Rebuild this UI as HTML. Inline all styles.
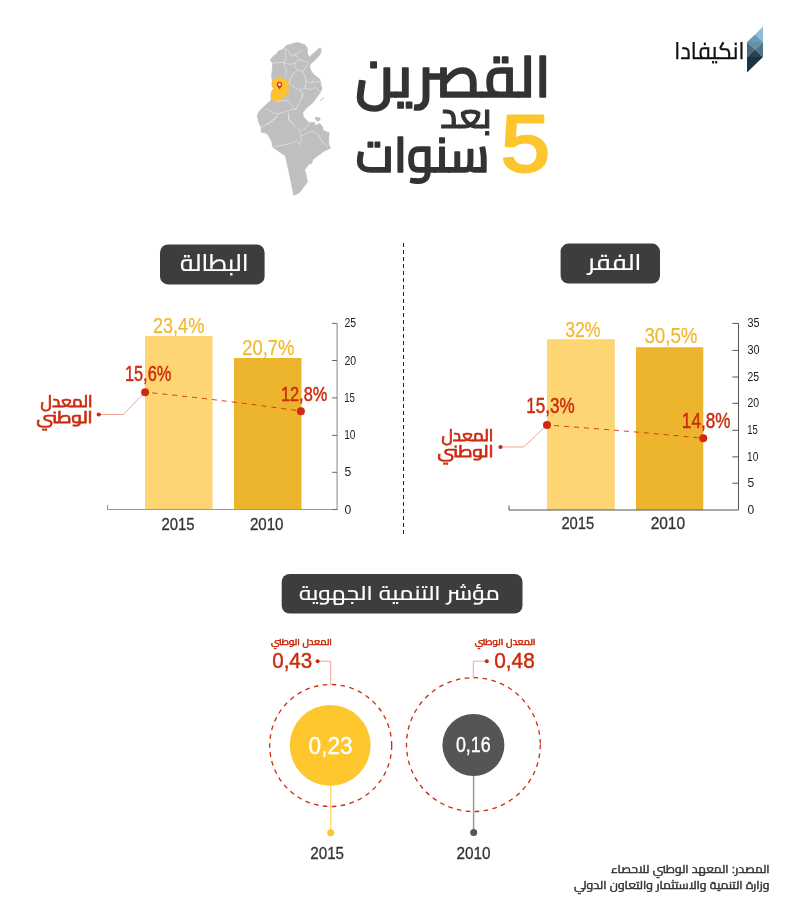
<!DOCTYPE html>
<html lang="ar">
<head>
<meta charset="utf-8">
<title>القصرين بعد 5 سنوات</title>
<style>
html,body{margin:0;padding:0;background:#ffffff;}
body{width:800px;height:920px;overflow:hidden;font-family:"Liberation Sans","Cairo","DejaVu Sans",sans-serif;}
svg{display:block;}
svg text{font-family:"Liberation Sans","Cairo","DejaVu Sans",sans-serif;white-space:pre;}
</style>
</head>
<body>
<svg width="800" height="920" viewBox="0 0 800 920">
<rect x="0" y="0" width="800" height="920" fill="#ffffff"/>

<!-- logo mark -->
<g id="logo-mark">
<polygon points="763,26.5 763,42 755,34.5" fill="#8bbdd8"/>
<polygon points="747,42 755,34.5 763,42" fill="#6c9bb6"/>
<polygon points="747,42 763,42 755,49.5" fill="#6590aa"/>
<polygon points="747,42 755,49.5 747,57" fill="#466a7e"/>
<polygon points="763,42 763,57 755,49.5" fill="#4f7488"/>
<polygon points="747,57 763,57 755,49.5" fill="#2a4250"/>
<polygon points="747,57 763,57 747,72.5" fill="#1e3340"/>
</g>

<!-- pills -->
<rect x="160" y="244.4" width="104.6" height="40" rx="8" fill="#3d3d3d"/>
<rect x="560.6" y="243.6" width="99.4" height="40" rx="8" fill="#3d3d3d"/>
<rect x="281.7" y="574" width="240.8" height="39.5" rx="8" fill="#3d3d3d"/>

<!-- divider -->
<line x1="403.5" y1="243" x2="403.5" y2="534" stroke="#222" stroke-width="1" stroke-dasharray="4 3"/>

<!-- left chart -->
<g id="chart-left">
<rect x="145" y="336" width="67.5" height="173.5" fill="#fdd572"/>
<rect x="234" y="358" width="67.5" height="151.5" fill="#edb52d"/>
<path d="M107.5 505 V509.5 H337.1 V323.4" fill="none" stroke="#999" stroke-width="1.2"/>
<path d="M332 323.4 H337.1 M332 360.5 H337.1 M332 397.9 H337.1 M332 435.4 H337.1 M332 472.3 H337.1 M332 509.5 H337.1" fill="none" stroke="#666" stroke-width="1"/>
<path d="M98.75 414.5 H123.25 L145.1 392.2" fill="none" stroke="#f0a696" stroke-width="1"/>
<circle cx="98.75" cy="414.5" r="2.1" fill="#cc2b0e"/>
<path d="M145.1 392.2 Q232 401 300.9 411.2" fill="none" stroke="#cc2b0e" stroke-width="0.9" stroke-dasharray="5 5" stroke-dashoffset="3"/>
<circle cx="145.1" cy="392.2" r="4" fill="#cc2b0e"/>
<circle cx="300.9" cy="411.2" r="4" fill="#cc2b0e"/>
</g>

<!-- right chart -->
<g id="chart-right">
<rect x="547" y="339.25" width="67.75" height="170.75" fill="#fdd572"/>
<rect x="636" y="347.25" width="67.25" height="162.75" fill="#edb52d"/>
<path d="M509 505.5 V510 H738.5 V323.4 M732.3 323.4 H738.5 M732.3 350.4 H738.5 M732.3 377 H738.5 M732.3 403.3 H738.5 M732.3 430.3 H738.5 M732.3 456.9 H738.5 M732.3 483.2 H738.5" fill="none" stroke="#555" stroke-width="1"/>
<path d="M500.5 447 H523.75 L547 425" fill="none" stroke="#f0a696" stroke-width="1"/>
<circle cx="500.5" cy="447" r="2.1" fill="#cc2b0e"/>
<path d="M547 425 Q630 431 703.25 438.25" fill="none" stroke="#cc2b0e" stroke-width="0.9" stroke-dasharray="5 5" stroke-dashoffset="3"/>
<circle cx="547" cy="425" r="4" fill="#cc2b0e"/>
<circle cx="703.25" cy="438.25" r="4" fill="#cc2b0e"/>
</g>

<!-- circles -->
<g id="index">
<circle cx="330.7" cy="745.5" r="61" fill="none" stroke="#cc2b0e" stroke-width="1.3" stroke-dasharray="4.6 4.4"/>
<line x1="330.7" y1="785" x2="330.7" y2="832.7" stroke="#fddb7a" stroke-width="1.5"/>
<circle cx="330.2" cy="745.4" r="40.4" fill="#fec72e"/>
<circle cx="330.7" cy="832.7" r="3.5" fill="#fec72e"/>
<path d="M317.6 661.2 H330.7 V684.6" fill="none" stroke="#f0a696" stroke-width="1"/>
<circle cx="317.6" cy="661.2" r="2" fill="#cc2b0e"/>

<circle cx="473.4" cy="744.6" r="66.9" fill="none" stroke="#cc2b0e" stroke-width="1.3" stroke-dasharray="4.6 4.4"/>
<line x1="473.6" y1="775" x2="473.6" y2="832.5" stroke="#999" stroke-width="1.5"/>
<circle cx="473.4" cy="745" r="31" fill="#555555"/>
<circle cx="473.7" cy="832.5" r="3.5" fill="#555555"/>
<path d="M486.8 661.2 H473.3 V677.8" fill="none" stroke="#f0a696" stroke-width="1"/>
<circle cx="486.8" cy="661.2" r="2" fill="#cc2b0e"/>
</g>
<!-- map of Tunisia -->
<g id="map">
<polygon points="297.2,42.6 301.0,43.5 305.0,45.0 307.0,47.5 307.5,51.0 307.0,53.0 308.5,55.5 309.5,57.5 311.0,55.5 314.0,53.0 317.0,50.5 319.0,48.3 320.8,48.5 321.2,51.5 320.0,54.5 317.5,57.5 315.0,60.0 312.0,62.5 310.0,64.5 309.8,67.0 310.5,70.0 312.5,73.0 315.0,75.5 317.5,77.5 319.5,79.0 320.5,82.0 320.8,85.0 322.0,88.0 321.0,91.0 319.0,94.0 317.0,97.0 314.5,100.5 311.9,103.6 306.2,108.1 302.9,112.6 302.9,116.0 304.5,118.0 306.2,120.0 309.6,122.9 313.0,122.3 314.7,122.3 315.0,125.7 317.5,124.6 319.7,123.4 322.0,126.3 323.1,130.2 326.5,131.9 329.3,133.0 328.7,137.5 328.7,144.3 330.4,148.2 324.2,151.0 318.1,155.5 313.0,159.4 311.3,163.4 308.5,164.5 304.6,170.1 306.2,175.7 307.4,181.9 299.5,192.6 293.9,195.4 286.0,157.7 284.9,155.5 272.5,147.1 271.9,142.0 270.2,138.6 266.9,133.6 261.2,131.9 261.2,127.4 259.0,122.9 257.3,116.0 259.0,111.5 263.5,107.0 266.9,104.2 271.2,100.0 271.0,95.0 271.7,91.4 273.7,88.7 272.1,86.0 272.3,80.2 271.6,75.5 272.5,68.7 272.5,63.1 270.2,60.3 273.6,55.8 277.0,54.1 278.1,51.3 282.6,49.6 286.0,45.7 291.6,44.0" fill="#bfbfbf" stroke="#bfbfbf" stroke-width="0.8" stroke-linejoin="round"/>
<polygon points="315.2,117.2 319.7,117.8 320.3,120.0 317.5,121.2 315.8,120.0" fill="#bfbfbf" stroke="#bfbfbf" stroke-width="0.5" stroke-linejoin="round"/>
<polygon points="319.9,100.6 322.0,98.6 324.2,97.2 324.6,97.9 322.4,99.6 320.4,101.2" fill="#c8c8c8"/>
<polygon points="278.4,76.5 280.9,77.5 283.6,78.8 287.2,81.0 289.9,83.8 287.2,87.3 289.0,89.6 288.6,92.3 285.4,95.0 284.5,97.2 280.9,99.5 275.9,101.8 271.2,99.0 271.0,95.0 271.7,91.4 273.7,88.7 272.1,86.0 272.4,80.2 276.9,79.2" fill="#fdc22f" stroke="#fdc22f" stroke-width="0.5" stroke-linejoin="round"/>
<polyline points="284.5,48.5 285.5,53.0 286.0,58.0 284.0,62.5 285.0,67.0 286.5,72.0 285.0,76.5" fill="none" stroke="#ebebeb" stroke-width="0.7" stroke-linejoin="round" stroke-opacity="0.85"/>
<polyline points="285.0,47.5 289.0,52.0 291.0,56.5 295.0,54.5 299.0,52.0 303.0,50.0" fill="none" stroke="#ebebeb" stroke-width="0.7" stroke-linejoin="round" stroke-opacity="0.85"/>
<polyline points="295.0,54.5 299.0,59.5 307.0,62.0" fill="none" stroke="#ebebeb" stroke-width="0.7" stroke-linejoin="round" stroke-opacity="0.85"/>
<polyline points="271.0,63.0 284.0,62.5 289.5,64.5 295.0,63.0 299.0,59.5" fill="none" stroke="#ebebeb" stroke-width="0.7" stroke-linejoin="round" stroke-opacity="0.85"/>
<polyline points="295.0,63.0 294.5,67.0 298.0,70.0 303.0,71.5 307.0,65.5 308.0,62.0" fill="none" stroke="#ebebeb" stroke-width="0.7" stroke-linejoin="round" stroke-opacity="0.85"/>
<polyline points="298.0,70.0 293.0,73.5 292.0,78.0 289.5,79.0 290.0,84.0" fill="none" stroke="#ebebeb" stroke-width="0.7" stroke-linejoin="round" stroke-opacity="0.85"/>
<polyline points="303.0,71.5 305.0,76.0 306.0,81.0 311.0,83.0 315.0,78.0" fill="none" stroke="#ebebeb" stroke-width="0.7" stroke-linejoin="round" stroke-opacity="0.85"/>
<polyline points="311.0,83.0 320.0,81.5" fill="none" stroke="#ebebeb" stroke-width="0.7" stroke-linejoin="round" stroke-opacity="0.85"/>
<polyline points="306.0,81.0 305.0,88.0 311.0,89.5 315.0,87.5 319.0,91.0" fill="none" stroke="#ebebeb" stroke-width="0.7" stroke-linejoin="round" stroke-opacity="0.85"/>
<polyline points="290.0,84.0 295.0,88.0 300.0,90.0 305.0,88.0" fill="none" stroke="#ebebeb" stroke-width="0.7" stroke-linejoin="round" stroke-opacity="0.85"/>
<polyline points="300.0,90.0 303.0,94.0 302.0,98.0" fill="none" stroke="#ebebeb" stroke-width="0.7" stroke-linejoin="round" stroke-opacity="0.85"/>
<polyline points="265.7,108.1 272.5,112.6 278.1,113.7 289.4,110.4 296.1,109.2" fill="none" stroke="#ebebeb" stroke-width="0.7" stroke-linejoin="round" stroke-opacity="0.85"/>
<polyline points="278.1,113.7 275.9,118.2 266.9,125.0" fill="none" stroke="#ebebeb" stroke-width="0.7" stroke-linejoin="round" stroke-opacity="0.85"/>
<polyline points="288.2,112.6 288.8,120.5 293.9,125.0" fill="none" stroke="#ebebeb" stroke-width="0.7" stroke-linejoin="round" stroke-opacity="0.85"/>
<polyline points="275.9,101.6 287.1,100.2 293.9,108.1 296.1,109.2 299.5,102.5 302.9,93.5" fill="none" stroke="#ebebeb" stroke-width="0.7" stroke-linejoin="round" stroke-opacity="0.85"/>
<polyline points="277.0,116.1 269.1,122.9 261.2,126.8" fill="none" stroke="#ebebeb" stroke-width="0.7" stroke-linejoin="round" stroke-opacity="0.85"/>
<polyline points="288.8,115.0 289.4,119.5 293.9,125.1 299.5,130.7 301.2,135.8 301.2,140.9 299.5,144.8 297.2,141.4 287.1,144.2 272.5,147.1" fill="none" stroke="#ebebeb" stroke-width="0.7" stroke-linejoin="round" stroke-opacity="0.85"/>
<polyline points="299.5,130.7 305.1,128.5 309.6,122.9" fill="none" stroke="#ebebeb" stroke-width="0.7" stroke-linejoin="round" stroke-opacity="0.85"/>
<polyline points="301.2,135.8 311.9,131.3 318.6,135.2 322.0,140.9 327.6,147.6" fill="none" stroke="#ebebeb" stroke-width="0.7" stroke-linejoin="round" stroke-opacity="0.85"/>
<path d="M279.55 89.3 C278.6 87.6 276.8 86.4 276.8 84.4 A2.75 2.75 0 1 1 282.3 84.4 C282.3 86.4 280.5 87.6 279.55 89.3 Z" fill="#e8380d"/>
<circle cx="279.55" cy="84.5" r="1.25" fill="#ffffff"/>
</g>

<g id="labels">
<text x="355.32" y="96.8" font-size="58.02" textLength="195.36" lengthAdjust="spacingAndGlyphs" fill="#333333" font-weight="600" stroke="#333333" stroke-width="1.6" stroke-linejoin="round">القصرين</text>
<text x="440.35" y="127.85" font-size="35.61" textLength="51.19" lengthAdjust="spacingAndGlyphs" fill="#333333" font-weight="600" stroke="#333333" stroke-width="1.1" stroke-linejoin="round">بعد</text>
<text x="355.71" y="171.8" font-size="49.51" textLength="133.85" lengthAdjust="spacingAndGlyphs" fill="#333333" font-weight="600" stroke="#333333" stroke-width="1.6" stroke-linejoin="round">سنوات</text>
<text x="500.93" y="170.75" font-size="79.79" textLength="48.94" lengthAdjust="spacingAndGlyphs" fill="#fec62e" stroke="#fec62e" stroke-width="2.9" stroke-linejoin="round">5</text>
<text x="674.36" y="58.6" font-size="23.58" textLength="70.01" lengthAdjust="spacingAndGlyphs" fill="#111111" font-weight="500" stroke="#111111" stroke-width="0.25" stroke-linejoin="round">انكيفادا</text>
<text x="180.09" y="271.2" font-size="23.09" textLength="68.48" lengthAdjust="spacingAndGlyphs" fill="#ffffff" font-weight="500" stroke="#ffffff" stroke-width="0.15" stroke-linejoin="round">البطالة</text>
<text x="587.87" y="269.8" font-size="22.53" textLength="53.54" lengthAdjust="spacingAndGlyphs" fill="#ffffff" font-weight="500" stroke="#ffffff" stroke-width="0.15" stroke-linejoin="round">الفقر</text>
<text x="298.93" y="599.75" font-size="20.1" textLength="200.86" lengthAdjust="spacingAndGlyphs" fill="#ffffff" font-weight="500" stroke="#ffffff" stroke-width="0.15" stroke-linejoin="round">مؤشر التنمية الجهوية</text>
<text x="152.97" y="332.66" font-size="21.48" textLength="51.3" lengthAdjust="spacingAndGlyphs" fill="#f4b82c" stroke="#f4b82c" stroke-width="0.25" stroke-linejoin="round">23,4%</text>
<text x="242.21" y="355.16" font-size="21.48" textLength="52.07" lengthAdjust="spacingAndGlyphs" fill="#f4b82c" stroke="#f4b82c" stroke-width="0.25" stroke-linejoin="round">20,7%</text>
<text x="124.91" y="380.56" font-size="21.2" textLength="46.44" lengthAdjust="spacingAndGlyphs" fill="#cc2b0e" stroke="#cc2b0e" stroke-width="0.45" stroke-linejoin="round">15,6%</text>
<text x="280.91" y="400.57" font-size="20.85" textLength="46.44" lengthAdjust="spacingAndGlyphs" fill="#cc2b0e" stroke="#cc2b0e" stroke-width="0.45" stroke-linejoin="round">12,8%</text>
<text x="40.6" y="407.25" font-size="16.34" textLength="51.86" lengthAdjust="spacingAndGlyphs" fill="#cc2b0e" stroke="#cc2b0e" stroke-width="0.75" stroke-linejoin="round">المعدل</text>
<text x="36.62" y="423.45" font-size="16.34" textLength="56.01" lengthAdjust="spacingAndGlyphs" fill="#cc2b0e" stroke="#cc2b0e" stroke-width="0.75" stroke-linejoin="round">الوطني</text>
<text x="161.41" y="529.68" font-size="17.18" textLength="33.11" lengthAdjust="spacingAndGlyphs" fill="#333333" stroke="#333333" stroke-width="0.3" stroke-linejoin="round">2015</text>
<text x="249.89" y="529.68" font-size="17.18" textLength="33.63" lengthAdjust="spacingAndGlyphs" fill="#333333" stroke="#333333" stroke-width="0.3" stroke-linejoin="round">2010</text>
<text x="344.48" y="327.48" font-size="12.39" textLength="11.67" lengthAdjust="spacingAndGlyphs" fill="#222222">25</text>
<text x="344.48" y="364.58" font-size="12.39" textLength="11.67" lengthAdjust="spacingAndGlyphs" fill="#222222">20</text>
<text x="344.23" y="401.97" font-size="12.57" textLength="10.67" lengthAdjust="spacingAndGlyphs" fill="#222222">15</text>
<text x="344.19" y="439.48" font-size="12.39" textLength="11.24" lengthAdjust="spacingAndGlyphs" fill="#222222">10</text>
<text x="344.51" y="476.37" font-size="12.57" textLength="6.75" lengthAdjust="spacingAndGlyphs" fill="#222222">5</text>
<text x="344.52" y="513.58" font-size="12.39" textLength="6.72" lengthAdjust="spacingAndGlyphs" fill="#222222">0</text>
<text x="565.17" y="337.16" font-size="21.48" textLength="35.26" lengthAdjust="spacingAndGlyphs" fill="#f4b82c" stroke="#f4b82c" stroke-width="0.25" stroke-linejoin="round">32%</text>
<text x="644.38" y="342.65" font-size="22.18" textLength="53.17" lengthAdjust="spacingAndGlyphs" fill="#f4b82c" stroke="#f4b82c" stroke-width="0.25" stroke-linejoin="round">30,5%</text>
<text x="526.36" y="412.56" font-size="21.2" textLength="48.27" lengthAdjust="spacingAndGlyphs" fill="#cc2b0e" stroke="#cc2b0e" stroke-width="0.45" stroke-linejoin="round">15,3%</text>
<text x="681.86" y="427.56" font-size="21.2" textLength="48.53" lengthAdjust="spacingAndGlyphs" fill="#cc2b0e" stroke="#cc2b0e" stroke-width="0.45" stroke-linejoin="round">14,8%</text>
<text x="441.5" y="441.25" font-size="16.34" textLength="51.86" lengthAdjust="spacingAndGlyphs" fill="#cc2b0e" stroke="#cc2b0e" stroke-width="0.75" stroke-linejoin="round">المعدل</text>
<text x="437.52" y="457.45" font-size="16.34" textLength="56.01" lengthAdjust="spacingAndGlyphs" fill="#cc2b0e" stroke="#cc2b0e" stroke-width="0.75" stroke-linejoin="round">الوطني</text>
<text x="561.41" y="529.18" font-size="17.18" textLength="32.85" lengthAdjust="spacingAndGlyphs" fill="#333333" stroke="#333333" stroke-width="0.3" stroke-linejoin="round">2015</text>
<text x="650.63" y="529.18" font-size="17.18" textLength="34.41" lengthAdjust="spacingAndGlyphs" fill="#333333" stroke="#333333" stroke-width="0.3" stroke-linejoin="round">2010</text>
<text x="747.47" y="327.48" font-size="12.39" textLength="12.1" lengthAdjust="spacingAndGlyphs" fill="#222222">35</text>
<text x="747.47" y="354.48" font-size="12.39" textLength="12.1" lengthAdjust="spacingAndGlyphs" fill="#222222">30</text>
<text x="747.38" y="381.08" font-size="12.39" textLength="11.67" lengthAdjust="spacingAndGlyphs" fill="#222222">25</text>
<text x="747.38" y="407.38" font-size="12.39" textLength="11.67" lengthAdjust="spacingAndGlyphs" fill="#222222">20</text>
<text x="747.13" y="434.37" font-size="12.57" textLength="10.67" lengthAdjust="spacingAndGlyphs" fill="#222222">15</text>
<text x="747.09" y="460.98" font-size="12.39" textLength="11.24" lengthAdjust="spacingAndGlyphs" fill="#222222">10</text>
<text x="747.41" y="487.27" font-size="12.57" textLength="6.75" lengthAdjust="spacingAndGlyphs" fill="#222222">5</text>
<text x="747.42" y="514.28" font-size="12.39" textLength="6.72" lengthAdjust="spacingAndGlyphs" fill="#222222">0</text>
<text x="271.06" y="645" font-size="8.68" textLength="60.85" lengthAdjust="spacingAndGlyphs" fill="#cc2b0e" stroke="#cc2b0e" stroke-width="0.5" stroke-linejoin="round">المعدل الوطني</text>
<text x="474.66" y="645" font-size="8.68" textLength="60.75" lengthAdjust="spacingAndGlyphs" fill="#cc2b0e" stroke="#cc2b0e" stroke-width="0.5" stroke-linejoin="round">المعدل الوطني</text>
<text x="272.2" y="667.76" font-size="21.9" textLength="40.03" lengthAdjust="spacingAndGlyphs" fill="#cc2b0e" stroke="#cc2b0e" stroke-width="0.45" stroke-linejoin="round">0,43</text>
<text x="494.19" y="667.76" font-size="21.9" textLength="40.55" lengthAdjust="spacingAndGlyphs" fill="#cc2b0e" stroke="#cc2b0e" stroke-width="0.45" stroke-linejoin="round">0,48</text>
<text x="308.59" y="754.16" font-size="24.23" textLength="44.06" lengthAdjust="spacingAndGlyphs" fill="#ffffff" stroke="#ffffff" stroke-width="0.4" stroke-linejoin="round">0,23</text>
<text x="455.89" y="751.58" font-size="21.69" textLength="34.74" lengthAdjust="spacingAndGlyphs" fill="#ffffff" stroke="#ffffff" stroke-width="0.4" stroke-linejoin="round">0,16</text>
<text x="310.29" y="858.98" font-size="17.04" textLength="33.74" lengthAdjust="spacingAndGlyphs" fill="#333333" stroke="#333333" stroke-width="0.3" stroke-linejoin="round">2015</text>
<text x="456.38" y="858.98" font-size="17.04" textLength="34.15" lengthAdjust="spacingAndGlyphs" fill="#333333" stroke="#333333" stroke-width="0.3" stroke-linejoin="round">2010</text>
<text x="610.99" y="872.7" font-size="10.87" textLength="158.62" lengthAdjust="spacingAndGlyphs" fill="#333333" stroke="#333333" stroke-width="0.45" stroke-linejoin="round">المصدر: المعهد الوطني للاحصاء</text>
<text x="574.14" y="888.95" font-size="10.87" textLength="195.36" lengthAdjust="spacingAndGlyphs" fill="#333333" stroke="#333333" stroke-width="0.45" stroke-linejoin="round">وزارة التنمية والاستثمار والتعاون الدولي</text>
</g>
</svg>
</body>
</html>
